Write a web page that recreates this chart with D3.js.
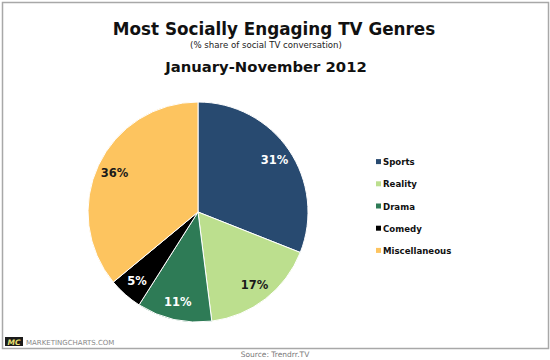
<!DOCTYPE html>
<html><head><meta charset="utf-8">
<script src="https://cdn.jsdelivr.net/npm/d3@7"></script>
<style>body{margin:0;background:#fff;}svg{display:block;font-family:"DejaVu Sans",Verdana,sans-serif;}</style>
</head><body>
<svg id="c" width="550" height="360"></svg>
<script>
const categories = ["Sports","Reality","Drama","Comedy","Miscellaneous"];
const values = [31,17,11,5,36];
const colors = ["#284a70","#bcdf8e","#2e7b56","#000000","#fdc45f"];
const labelColors = ["#ffffff","#1a1a1a","#ffffff","#ffffff","#1a1a1a"];

const svg = d3.select("#c");
// frame
svg.append("rect").attr("x",2.5).attr("y",2.5).attr("width",546).attr("height",346)
  .attr("fill","#fff").attr("stroke","#a8a8a8").attr("stroke-width",1.5);

svg.append("text").attr("x",274).attr("y",35).attr("text-anchor","middle")
  .attr("font-weight","bold").attr("font-size",16.8).attr("fill","#111")
  .text("Most Socially Engaging TV Genres");
svg.append("text").attr("x",266).attr("y",47.5).attr("text-anchor","middle")
  .attr("font-size",8.6).attr("fill","#222")
  .text("(% share of social TV conversation)");
svg.append("text").attr("x",266).attr("y",72).attr("text-anchor","middle")
  .attr("font-weight","bold").attr("font-size",14.8).attr("fill","#111")
  .text("January-November 2012");

const cx = 198, cy = 212, r = 110;
const pie = d3.pie().sort(null).value(d=>d)(values);
const arc = d3.arc().innerRadius(0).outerRadius(r);
const labelArc = d3.arc().innerRadius(r*0.84).outerRadius(r*0.84);
const g = svg.append("g").attr("transform",`translate(${cx},${cy})`);
g.selectAll("path").data(pie).join("path")
  .attr("d",arc).attr("fill",(d,i)=>colors[i])
  .attr("stroke","#fff").attr("stroke-width",1);
g.selectAll("text").data(pie).join("text")
  .attr("transform",d=>`translate(${labelArc.centroid(d)})`)
  .attr("text-anchor","middle").attr("dy","0.35em")
  .attr("font-weight","bold").attr("font-size",11.5)
  .attr("fill",(d,i)=>labelColors[i])
  .text(d=>d.data+"%");

const y = d3.scaleBand().domain(categories).range([151,262]);
const lg = svg.append("g");
categories.forEach((c,i)=>{
  const yy = y(c)+y.bandwidth()/2;
  lg.append("rect").attr("x",376).attr("y",yy-3).attr("width",5).attr("height",5).attr("fill",colors[i]);
  lg.append("text").attr("x",383).attr("y",yy).attr("dy","0.35em")
    .attr("font-weight","bold").attr("font-size",8.6).attr("fill","#111").text(c);
});

// footer
svg.append("rect").attr("x",5).attr("y",337).attr("width",18).attr("height",9).attr("fill","#1b1b1b");
svg.append("text").attr("x",14).attr("y",344.5).attr("text-anchor","middle")
  .attr("font-size",7.5).attr("font-weight","bold").attr("font-style","italic").attr("fill","#e8e070").text("MC");
svg.append("text").attr("x",26).attr("y",344.5).attr("font-size",7).attr("fill","#888")
  .text("MARKETINGCHARTS.COM");
svg.append("text").attr("x",275).attr("y",357).attr("text-anchor","middle")
  .attr("font-size",7.5).attr("fill","#777").text("Source: Trendrr.TV");
</script>
</body></html>
